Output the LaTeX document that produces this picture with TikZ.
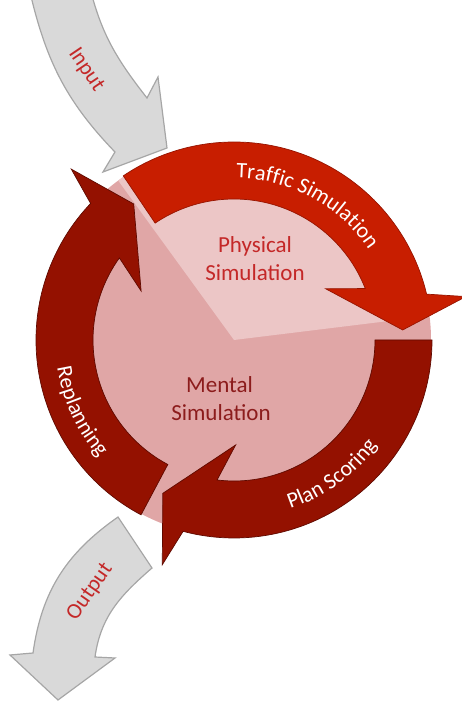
\documentclass[tikz,border=0pt]{standalone}
\usepackage{fontspec}
\setmainfont{Carlito}
\usetikzlibrary{decorations.text}
\definecolor{trafficred}{RGB}{200,30,0}
\definecolor{trafficline}{RGB}{150,20,0}
\definecolor{darkred}{RGB}{148,17,0}
\definecolor{darkline}{RGB}{95,10,0}
\definecolor{pinkdark}{RGB}{224,166,166}
\definecolor{pinklight}{RGB}{236,198,198}
\definecolor{grayfill}{RGB}{217,217,217}
\definecolor{grayline}{RGB}{166,166,166}
\definecolor{labelred}{RGB}{196,40,40}
\definecolor{mentalred}{RGB}{140,28,28}
\tikzset{
  ringarrow/.style={line width=0.7pt, line join=miter},
  grayarrow/.style={fill=grayfill, draw=grayline, line width=1.2pt, line join=miter},
  innertext/.style={font=\fontsize{23}{27}\selectfont, anchor=base, inner sep=0pt},
  graytext/.style={font=\fontsize{22}{26}\selectfont, text=labelred, inner sep=0pt}
}
\newcommand\ringarrowpath[2]{%
  (#1:198pt) arc[start angle=#1, end angle={#2+10}, radius=198pt]
  -- ({#2+7.2}:236pt) -- (#2:169pt) -- ({#2+25.8}:105pt) -- ({#2+18}:141pt)
  arc[start angle={#2+18}, end angle=#1, radius=141pt] -- cycle}
\begin{document}
\begin{tikzpicture}[x=1pt, y=1pt]
\useasboundingbox (-234,-368) rectangle (228,340);
\begin{scope}
\clip (-234,-368) rectangle (228,340);
% Input arrow
\filldraw[grayarrow] (-205,352) to[out=-77,in=134] (-119,188) -- (-131,168) -- (-67,192)
  -- (-76,263) -- (-87,242) to[out=128,in=-76] (-144,352) -- cycle;
% Output arrow
\filldraw[grayarrow] (-116,-177) to[out=-145,in=82] (-201,-313) -- (-224,-315) -- (-176,-360)
  -- (-119,-318) -- (-139,-317) to[out=82,in=-139] (-82,-228) -- cycle;
\end{scope}
\node[graytext, rotate=-56] (input) at (-148,270) {Input};
\node[graytext, rotate=55] (output) at (-144,-252) {Output};
% disc
\fill[pinkdark] (0,0) circle[radius=197pt];
\fill[pinklight] (0,0) -- (7:197pt) arc[start angle=7, end angle=126, radius=197pt] -- cycle;
% ring arrows
\filldraw[ringarrow, fill=darkred, draw=darkline] \ringarrowpath{242}{126.4};
\filldraw[ringarrow, fill=darkred, draw=darkline] \ringarrowpath{0}{-114.9};
\filldraw[ringarrow, fill=trafficred, draw=trafficline] \ringarrowpath{124}{3.4};
% ring labels
\path[decorate, decoration={text along path, text align=center, text color=white,
  text={|\fontsize{22}{26}\selectfont|Traffic Simulation}}]
  (105:162pt) arc[start angle=105, end angle=18, radius=162pt];
\path[decorate, decoration={text along path, text align=center, text color=white,
  text={|\fontsize{22}{26}\selectfont|Plan Scoring}}]
  (262:178pt) arc[start angle=262, end angle=350, radius=178pt];
\path[decorate, decoration={text along path, text align=center, text color=white,
  text={|\fontsize{22}{26}\selectfont|Replanning}}]
  (160:179pt) arc[start angle=160, end angle=250, radius=179pt];
% inner labels
\node[innertext, text=labelred] (phys1) at (21,87) {Physical};
\node[innertext, text=labelred] (phys2) at (21,59) {Simulation};
\node[innertext, text=mentalred] (ment1) at (-14.5,-53) {Mental};
\node[innertext, text=mentalred] (ment2) at (-13,-81) {Simulation};
\end{tikzpicture}
\end{document}
